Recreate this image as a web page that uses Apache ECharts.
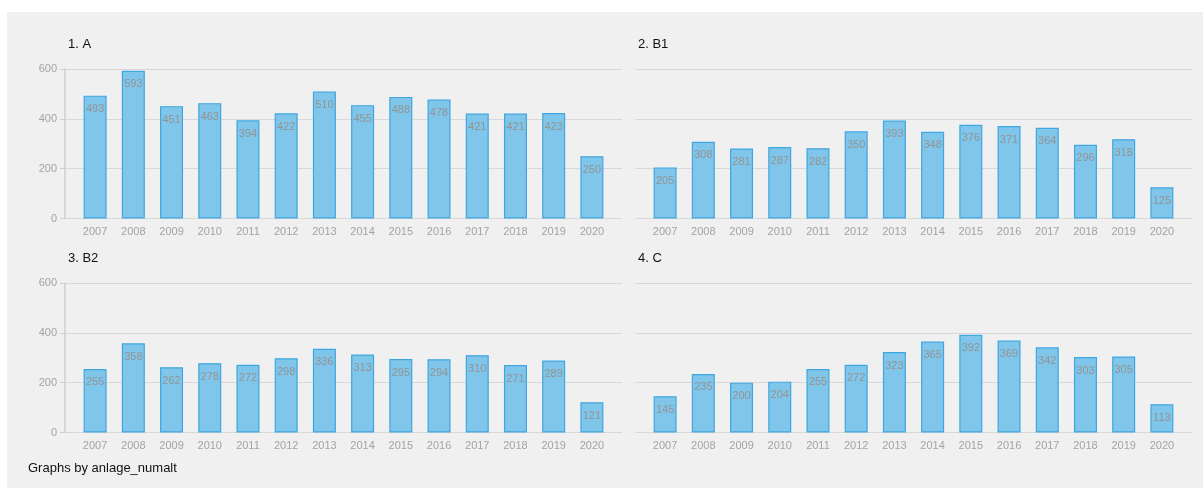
<!DOCTYPE html>
<html><head><meta charset="utf-8">
<script src="https://cdn.jsdelivr.net/npm/echarts@6/dist/echarts.min.js"></script>
<style>html,body{margin:0;padding:0;background:#fff}#c{width:1203px;height:488px}</style>
</head><body><div id="c"></div>
<script>
const years = ['2007','2008','2009','2010','2011','2012','2013','2014','2015','2016','2017','2018','2019','2020'];
const panelTitles = ['1. A','2. B1','3. B2','4. C'];
const valuesA  = [493,593,451,463,394,422,510,455,488,478,421,421,423,250];
const valuesB1 = [205,308,281,287,282,350,393,348,376,371,364,296,318,125];
const valuesB2 = [255,358,262,278,272,298,336,313,295,294,310,271,289,121];
const valuesC  = [145,235,200,204,255,272,323,365,392,369,342,303,305,113];
const yTicks = [0,200,400,600];
const footnote = 'Graphs by anlage_numalt';

const seriesData = [valuesA, valuesB1, valuesB2, valuesC];
const colLeft = [65, 635];
const rowTop = [69, 283];
const gW = 557, gH = 149.5;
const font = 'Arial, "Liberation Sans", Helvetica, sans-serif';

const grid = [], xAxis = [], yAxis = [], series = [], graphic = [];
graphic.push({type:'rect', left:7, top:12, shape:{width:1196, height:476}, style:{fill:'#f0f0f0'}, z:-10});
for (let p = 0; p < 4; p++) {
  const c = p % 2, r = Math.floor(p / 2);
  const L = colLeft[c], T = rowTop[r];
  grid.push({left:L, top:T, width:gW, height:gH});
  xAxis.push({gridIndex:2*p, type:'value', show:false, min:0, max:1});
  yAxis.push({gridIndex:2*p, type:'value', min:yTicks[0], max:yTicks[yTicks.length-1], interval:200,
    axisLine:{show:c===0, lineStyle:{color:'#cfcfcf', width:1.5}},
    axisTick:{show:c===0, length:5, lineStyle:{color:'#cfcfcf'}},
    axisLabel:{show:c===0, color:'#a3a3a3', fontSize:11, fontFamily:font, margin:8},
    splitLine:{show:true, lineStyle:{color:'#d8d8d8', width:1}}});
  grid.push({left:L+11, top:T, width:535, height:gH});
  xAxis.push({gridIndex:2*p+1, type:'category', data:years,
    axisLine:{show:false}, axisTick:{show:false},
    axisLabel:{color:'#a3a3a3', fontSize:11, fontFamily:font, margin:8}});
  yAxis.push({gridIndex:2*p+1, type:'value', min:0, max:600, show:false, splitLine:{show:false}});
  series.push({type:'bar', xAxisIndex:2*p+1, yAxisIndex:2*p+1, data:seriesData[p],
    barWidth:23,
    itemStyle:{color:'#80c6ea', borderColor:'#3ea6e0', borderWidth:1.2},
    label:{show:true, position:'insideTop', distance:8, color:'#939393', fontSize:11, fontFamily:font},
    silent:true});
  graphic.push({type:'text', left:L+3, top:T-31, style:{text:panelTitles[p], fill:'#111', fontSize:13, fontFamily:font}});
}
graphic.push({type:'text', left:28, top:462, style:{text:footnote, fill:'#111', fontSize:13, fontFamily:font}});

const chart = echarts.init(document.getElementById('c'), null, {renderer:'canvas'});
chart.setOption({backgroundColor:'#ffffff', animation:false, grid, xAxis, yAxis, series, graphic});
</script></body></html>
